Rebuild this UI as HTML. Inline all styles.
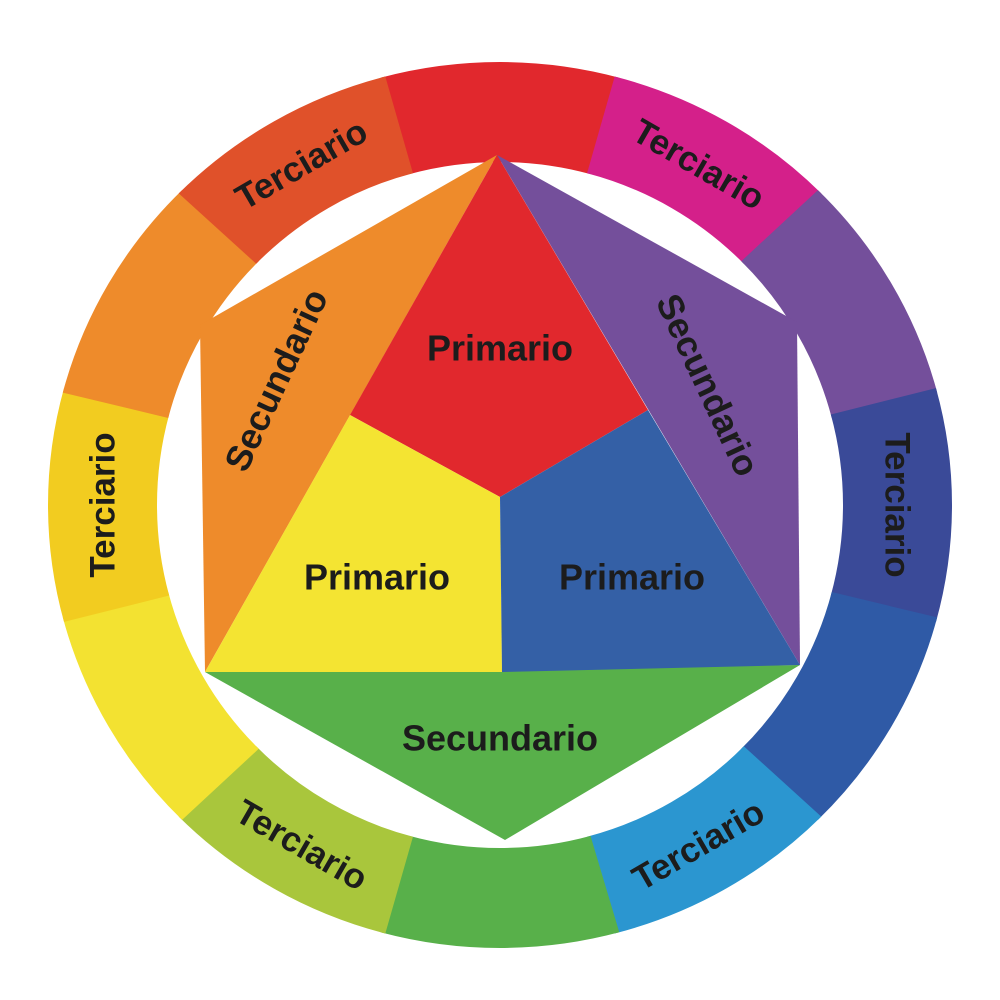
<!DOCTYPE html>
<html><head><meta charset="utf-8"><style>
html,body{margin:0;padding:0;background:#fff;width:1000px;height:1000px;overflow:hidden}
text{font-family:"Liberation Sans",sans-serif;font-weight:bold;fill:#1c1c1c;text-anchor:middle;dominant-baseline:central}
</style></head><body>
<svg width="1000" height="1000" viewBox="0 0 1000 1000" xmlns="http://www.w3.org/2000/svg">
<g id="ring"></g>
<polygon points="497,155 200,325 205,672" fill="#ee8b2b"/>
<polygon points="497,155 797,322 800,665" fill="#744f9b"/>
<polygon points="205,672 800,665 505,840" fill="#58b04a"/>
<polygon points="497,155 648,410 500,497 350,415" fill="#e1282d"/>
<polygon points="350,415 500,497 502,672 205,672" fill="#f4e432"/>
<polygon points="648,410 800,665 502,672 500,497" fill="#3460a6"/>
<text x="500" y="348" font-size="36">Primario</text>
<text x="377" y="577" font-size="36">Primario</text>
<text x="632" y="577" font-size="36">Primario</text>
<text x="500" y="738" font-size="36">Secundario</text>
<text x="0" y="0" font-size="36" transform="translate(276,380) rotate(-65)">Secundario</text>
<text x="0" y="0" font-size="36" transform="translate(708,385) rotate(65)">Secundario</text>
<g id="labels"></g>
<script>
var cx=500,cy=505,rx=452,ry=443,ir=343;
var cols=["#e1282d","#d4208a","#744f9b","#3a4a98","#2f5aa6","#2b96d0","#58b04a","#a9c63c","#f3e231","#f2cc20","#ee8b2b","#e0512a"];
var ring=document.getElementById("ring"),lab=document.getElementById("labels"),ns="http://www.w3.org/2000/svg";
function P(a,r1,r2){var t=a*Math.PI/180;return [cx+r1*Math.cos(t),cy+r2*Math.sin(t)];}
for(var k=0;k<12;k++){
 var c=-90+k*30,a1=c-15.3,a2=c+15.3;
 var o1=P(a1,rx,ry),o2=P(a2,rx,ry),i1=P(a2,ir,ir),i2=P(a1,ir,ir);
 var p=document.createElementNS(ns,"path");
 p.setAttribute("d","M"+o1+" A"+rx+" "+ry+" 0 0 1 "+o2+" L"+i1+" A"+ir+" "+ir+" 0 0 0 "+i2+"Z");
 p.setAttribute("fill",cols[k]);ring.appendChild(p);
 if(k%2==1){
  var q=P(c,397,393),rot=c+90;
  if(c==60||c==120) rot=c-90;
  var t=document.createElementNS(ns,"text");
  t.setAttribute("font-size","35");
  t.setAttribute("transform","translate("+q[0]+","+q[1]+") rotate("+rot+")");
  t.textContent="Terciario";lab.appendChild(t);
 }
}
</script>
</svg>
</body></html>
